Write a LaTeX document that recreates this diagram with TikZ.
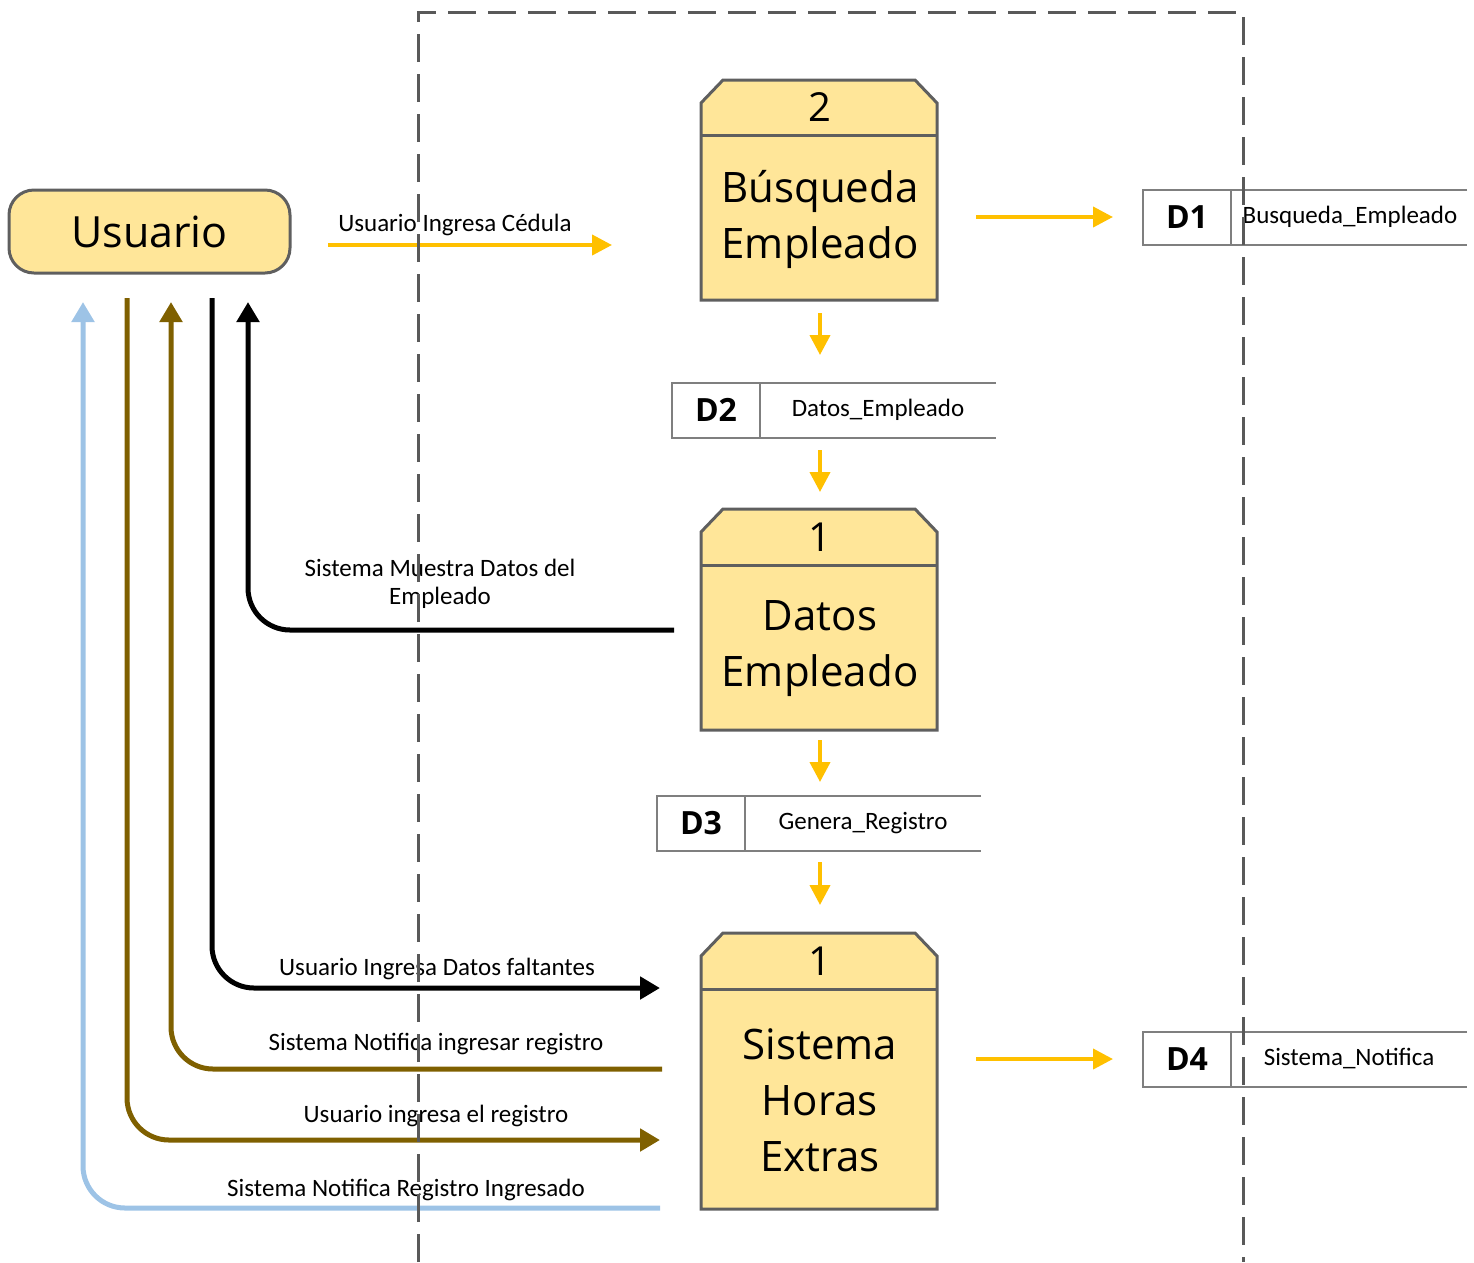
\documentclass[tikz,border=0pt]{standalone}
\usepackage{fontspec}
\setmainfont{Carlito}
\newfontfamily\bigfont{Open Sans}
\usetikzlibrary{arrows.meta}
\definecolor{boxfill}{HTML}{FFE699}
\definecolor{boxline}{HTML}{5F5F5F}
\definecolor{flowyel}{HTML}{FFC000}
\definecolor{flowbrown}{HTML}{7F6000}
\definecolor{flowblue}{HTML}{9DC3E6}
\definecolor{storeline}{HTML}{7F7F7F}
\definecolor{frameline}{HTML}{595959}
\tikzset{
  x=1pt, y=-1pt,
  proc/.style={fill=boxfill, draw=boxline, line width=3pt, line join=miter},
  proctext/.style={font=\bigfont\fontsize{42}{56}\selectfont, align=center, inner sep=0pt},
  procnum/.style={font=\bigfont\fontsize{40}{48}\selectfont, inner sep=0pt},
  storeid/.style={font=\bigfont\bfseries\fontsize{32}{36}\selectfont, inner sep=0pt},
  storename/.style={font=\fontsize{25}{28}\selectfont, inner sep=0pt},
  storeln/.style={draw=storeline, line width=1.5pt},
  flowlabel/.style={font=\fontsize{25}{28}\selectfont, align=center, inner sep=0pt},
  yarrow/.style={draw=flowyel, line width=4pt, -{Triangle[length=20pt,width=20pt]}},
  bigarrow/.style={line width=5pt, rounded corners=42pt, -{Triangle[length=20pt,width=22pt]}},
  frame/.style={draw=frameline, line width=3pt, dash pattern=on 28pt off 12pt}
}
\begin{document}
\begin{tikzpicture}
\useasboundingbox (0,0) rectangle (1474,1262);

% ---------- Usuario ----------
\node[draw=boxline, fill=boxfill, line width=3pt, rounded corners=25pt,
      minimum width=281pt, minimum height=83pt, inner sep=0pt,
      font=\bigfont\fontsize{43}{50}\selectfont] (usuario) at (149.5,231.5) {Usuario};

% ---------- Process boxes ----------
% Box: Busqueda Empleado
\draw[proc] (701,300) -- (701,103) -- (723,80) -- (915,80) -- (937,103) -- (937,300) -- cycle;
\draw[boxline, line width=3pt] (701,135) -- (937,135);
\node[procnum] (p2num) at (820,107) {2};
\node[proctext] (p2) at (820,219) {Búsqueda\\Empleado};

% Box: Datos Empleado
\draw[proc] (701,730) -- (701,532) -- (723,509) -- (915,509) -- (937,532) -- (937,730) -- cycle;
\draw[boxline, line width=3pt] (701,565) -- (937,565);
\node[procnum] (p1num) at (820,537) {1};
\node[proctext] (p1) at (820,649) {Datos\\Empleado};

% Box: Sistema Horas Extras
\draw[proc] (701,1209) -- (701,956) -- (723,933) -- (915,933) -- (937,956) -- (937,1209) -- cycle;
\draw[boxline, line width=3pt] (701,989) -- (937,989);
\node[procnum] (p3num) at (820,961) {1};
\node[proctext] (p3) at (820,1100) {Sistema\\Horas\\Extras};

% ---------- Data stores ----------
% D1
\draw[storeln] (1467,190) -- (1143,190) -- (1143,245) -- (1467,245);
\draw[storeln] (1231,190) -- (1231,245);
\node[storeid] (d1) at (1187,217) {D1};
\node[storename] (d1n) at (1350,217) {Busqueda\_Empleado};
% D2
\draw[storeln] (996,383) -- (672,383) -- (672,438) -- (996,438);
\draw[storeln] (760,383) -- (760,438);
\node[storeid] (d2) at (716,410) {D2};
\node[storename] (d2n) at (878,410) {Datos\_Empleado};
% D3
\draw[storeln] (981,796) -- (657,796) -- (657,851) -- (981,851);
\draw[storeln] (745,796) -- (745,851);
\node[storeid] (d3) at (701,823) {D3};
\node[storename] (d3n) at (863,823) {Genera\_Registro};
% D4
\draw[storeln] (1467,1032) -- (1143,1032) -- (1143,1087) -- (1467,1087);
\draw[storeln] (1231,1032) -- (1231,1087);
\node[storeid] (d4) at (1187,1059) {D4};
\node[storename] (d4n) at (1349,1059) {Sistema\_Notifica};

% ---------- Coordinates for flow ends ----------
\coordinate (c1s) at (328,245);  \coordinate (c1e) at (612,245);
\coordinate (a1s) at (976,217);  \coordinate (a1e) at (1113,217);
\coordinate (a2s) at (820,313);  \coordinate (a2e) at (820,355);
\coordinate (a3s) at (820,450);  \coordinate (a3e) at (820,492);
\coordinate (a4s) at (820,740);  \coordinate (a4e) at (820,782);
\coordinate (a5s) at (820,862);  \coordinate (a5e) at (820,905);
\coordinate (a6s) at (976,1059); \coordinate (a6e) at (1113,1059);

\coordinate (muS) at (674,630);  \coordinate (muE) at (248,302);
\coordinate (dfS) at (212,298);  \coordinate (dfE) at (660,988);
\coordinate (niS) at (662,1069); \coordinate (niE) at (171,302);
\coordinate (irS) at (127,298);  \coordinate (irE) at (660,1140);
\coordinate (nrS) at (660,1208); \coordinate (nrE) at (83,302);

% ---------- Yellow flows ----------
\draw[yarrow] (c1s) -- (c1e);
\draw[yarrow] (a1s) -- (a1e);
\draw[yarrow] (a2s) -- (a2e);
\draw[yarrow] (a3s) -- (a3e);
\draw[yarrow] (a4s) -- (a4e);
\draw[yarrow] (a5s) -- (a5e);
\draw[yarrow] (a6s) -- (a6e);

% ---------- Flows to and from Usuario ----------
\draw[bigarrow, draw=flowblue]  (nrS) -- (nrE |- nrS) -- (nrE);
\draw[bigarrow, draw=flowbrown] (irS) -- (irS |- irE) -- (irE);
\draw[bigarrow, draw=flowbrown] (niS) -- (niE |- niS) -- (niE);
\draw[bigarrow, draw=black]     (dfS) -- (dfS |- dfE) -- (dfE);
\draw[bigarrow, draw=black]     (muS) -- (muE |- muS) -- (muE);

% ---------- Flow labels ----------
\node[flowlabel] (l1) at (455,225) {Usuario Ingresa Cédula};
\node[flowlabel] (l2) at (440,584) {Sistema Muestra Datos del\\Empleado};
\node[flowlabel] (l3) at (437,969) {Usuario Ingresa Datos faltantes};
\node[flowlabel] (l4) at (436,1044) {Sistema Notifica ingresar registro};
\node[flowlabel] (l5) at (436,1116) {Usuario ingresa el registro};
\node[flowlabel] (l6) at (406,1190) {Sistema Notifica Registro Ingresado};

% ---------- System boundary ----------
\draw[frame] (418,1262) -- (418,12) -- (1243,12) -- (1243,1262);
\end{tikzpicture}
\end{document}
